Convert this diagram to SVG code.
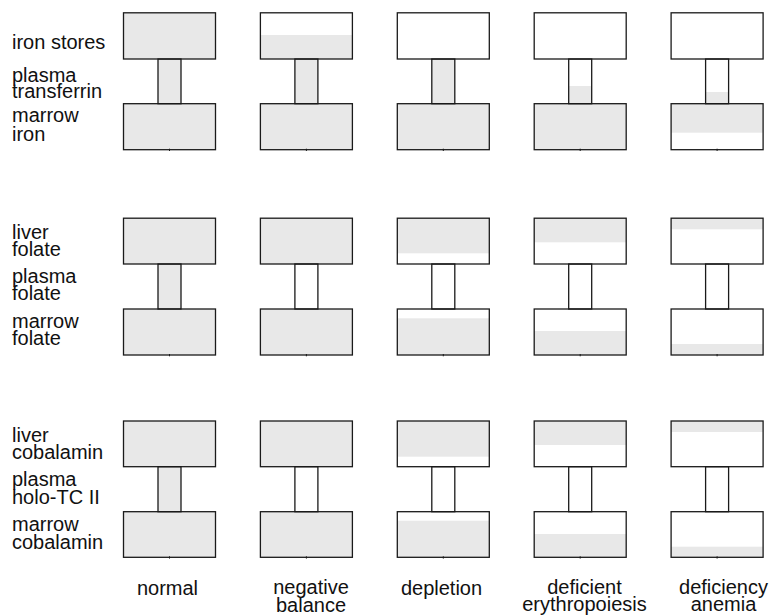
<svg xmlns="http://www.w3.org/2000/svg" width="769" height="615" viewBox="0 0 769 615">
<style>
.box{fill:none;stroke:#1a1a1a;stroke-width:1.3}
.lvl{fill:#e8e8e8}
.tick{stroke:#1a1a1a;stroke-width:1}
.lbl{font-family:"Liberation Sans",Arial,sans-serif;font-size:20px;fill:#111}
.cap{font-family:"Liberation Sans",Arial,sans-serif;font-size:20px;fill:#111;text-anchor:middle}
</style>
<rect width="769" height="615" fill="#fff"/>

<g id="row-labels">
<text class="lbl" x="12" y="48.5">iron stores</text>
<text class="lbl" x="12" y="81.5">plasma<tspan x="12" dy="16">transferrin</tspan></text>
<text class="lbl" x="12" y="122">marrow<tspan x="12" dy="18.5">iron</tspan></text>

<text class="lbl" x="12" y="239">liver<tspan x="12" dy="17">folate</tspan></text>
<text class="lbl" x="12" y="283.3">plasma<tspan x="12" dy="16.7">folate</tspan></text>
<text class="lbl" x="12" y="327.7">marrow<tspan x="12" dy="17.3">folate</tspan></text>

<text class="lbl" x="12" y="441.7">liver<tspan x="12" dy="17.6">cobalamin</tspan></text>
<text class="lbl" x="12" y="486">plasma<tspan x="12" dy="18">holo-TC II</tspan></text>
<text class="lbl" x="12" y="530.7">marrow<tspan x="12" dy="18.3">cobalamin</tspan></text>
</g>

<g id="column-labels">
<text class="cap" x="167.5" y="595">normal</text>
<text class="cap" x="311" y="593.5">negative<tspan x="311" dy="18">balance</tspan></text>
<text class="cap" x="441.5" y="595">depletion</text>
<text class="cap" x="584.5" y="593.5">deficient<tspan x="584.5" dy="17.5">erythropoiesis</tspan></text>
<text class="cap" x="723.5" y="593.5">deficiency<tspan x="723.5" dy="17.5">anemia</tspan></text>
</g>

<!-- Row 1: iron -->
<g id="iron-normal">
<rect class="lvl" x="123.5" y="12.8" width="92" height="46.2"/>
<rect class="lvl" x="158" y="59" width="23" height="44.7"/>
<rect class="lvl" x="123.5" y="103.7" width="92" height="46"/>
<rect class="box" x="123.5" y="12.8" width="92" height="46.2"/>
<rect class="box" x="158" y="59" width="23" height="44.7"/>
<rect class="box" x="123.5" y="103.7" width="92" height="46"/>
<line class="tick" x1="169.5" y1="148.7" x2="169.5" y2="151"/>
</g>
<g id="iron-negative-balance">
<rect class="lvl" x="260.4" y="35" width="92" height="24"/>
<rect class="lvl" x="294.9" y="59" width="23" height="44.7"/>
<rect class="lvl" x="260.4" y="103.7" width="92" height="46"/>
<rect class="box" x="260.4" y="12.8" width="92" height="46.2"/>
<rect class="box" x="294.9" y="59" width="23" height="44.7"/>
<rect class="box" x="260.4" y="103.7" width="92" height="46"/>
<line class="tick" x1="306.4" y1="148.7" x2="306.4" y2="151"/>
</g>
<g id="iron-depletion">
<rect class="lvl" x="431.8" y="59" width="23" height="44.7"/>
<rect class="lvl" x="397.3" y="103.7" width="92" height="46"/>
<rect class="box" x="397.3" y="12.8" width="92" height="46.2"/>
<rect class="box" x="431.8" y="59" width="23" height="44.7"/>
<rect class="box" x="397.3" y="103.7" width="92" height="46"/>
<line class="tick" x1="443.3" y1="148.7" x2="443.3" y2="151"/>
</g>
<g id="iron-deficient-erythropoiesis">
<rect class="lvl" x="568.7" y="86" width="23" height="17.7"/>
<rect class="lvl" x="534.2" y="103.7" width="92" height="46"/>
<rect class="box" x="534.2" y="12.8" width="92" height="46.2"/>
<rect class="box" x="568.7" y="59" width="23" height="44.7"/>
<rect class="box" x="534.2" y="103.7" width="92" height="46"/>
<line class="tick" x1="580.2" y1="148.7" x2="580.2" y2="151"/>
</g>
<g id="iron-deficiency-anemia">
<rect class="lvl" x="705.6" y="92" width="23" height="11.7"/>
<rect class="lvl" x="671.1" y="103.7" width="92" height="29"/>
<rect class="box" x="671.1" y="12.8" width="92" height="46.2"/>
<rect class="box" x="705.6" y="59" width="23" height="44.7"/>
<rect class="box" x="671.1" y="103.7" width="92" height="46"/>
<line class="tick" x1="717.1" y1="148.7" x2="717.1" y2="151"/>
</g>

<!-- Row 2: folate -->
<g id="folate-normal">
<rect class="lvl" x="123.5" y="218.2" width="92" height="45.8"/>
<rect class="lvl" x="158" y="264" width="23" height="45"/>
<rect class="lvl" x="123.5" y="309" width="92" height="46"/>
<rect class="box" x="123.5" y="218.2" width="92" height="45.8"/>
<rect class="box" x="158" y="264" width="23" height="45"/>
<rect class="box" x="123.5" y="309" width="92" height="46"/>
<line class="tick" x1="169.5" y1="354" x2="169.5" y2="356.3"/>
</g>
<g id="folate-negative-balance">
<rect class="lvl" x="260.4" y="218.2" width="92" height="45.8"/>
<rect class="lvl" x="260.4" y="309" width="92" height="46"/>
<rect class="box" x="260.4" y="218.2" width="92" height="45.8"/>
<rect class="box" x="294.9" y="264" width="23" height="45"/>
<rect class="box" x="260.4" y="309" width="92" height="46"/>
<line class="tick" x1="306.4" y1="354" x2="306.4" y2="356.3"/>
</g>
<g id="folate-depletion">
<rect class="lvl" x="397.3" y="218.2" width="92" height="35.1"/>
<rect class="lvl" x="397.3" y="318.3" width="92" height="36.7"/>
<rect class="box" x="397.3" y="218.2" width="92" height="45.8"/>
<rect class="box" x="431.8" y="264" width="23" height="45"/>
<rect class="box" x="397.3" y="309" width="92" height="46"/>
<line class="tick" x1="443.3" y1="354" x2="443.3" y2="356.3"/>
</g>
<g id="folate-deficient-erythropoiesis">
<rect class="lvl" x="534.2" y="218.2" width="92" height="24.1"/>
<rect class="lvl" x="534.2" y="331" width="92" height="24"/>
<rect class="box" x="534.2" y="218.2" width="92" height="45.8"/>
<rect class="box" x="568.7" y="264" width="23" height="45"/>
<rect class="box" x="534.2" y="309" width="92" height="46"/>
<line class="tick" x1="580.2" y1="354" x2="580.2" y2="356.3"/>
</g>
<g id="folate-deficiency-anemia">
<rect class="lvl" x="671.1" y="218.2" width="92" height="11.1"/>
<rect class="lvl" x="671.1" y="344" width="92" height="11"/>
<rect class="box" x="671.1" y="218.2" width="92" height="45.8"/>
<rect class="box" x="705.6" y="264" width="23" height="45"/>
<rect class="box" x="671.1" y="309" width="92" height="46"/>
<line class="tick" x1="717.1" y1="354" x2="717.1" y2="356.3"/>
</g>

<!-- Row 3: cobalamin -->
<g id="cobalamin-normal">
<rect class="lvl" x="123.5" y="421" width="92" height="45.7"/>
<rect class="lvl" x="158" y="466.7" width="23" height="45"/>
<rect class="lvl" x="123.5" y="511.7" width="92" height="45.6"/>
<rect class="box" x="123.5" y="421" width="92" height="45.7"/>
<rect class="box" x="158" y="466.7" width="23" height="45"/>
<rect class="box" x="123.5" y="511.7" width="92" height="45.6"/>
<line class="tick" x1="169.5" y1="556.3" x2="169.5" y2="558.6"/>
</g>
<g id="cobalamin-negative-balance">
<rect class="lvl" x="260.4" y="421" width="92" height="45.7"/>
<rect class="lvl" x="260.4" y="511.7" width="92" height="45.6"/>
<rect class="box" x="260.4" y="421" width="92" height="45.7"/>
<rect class="box" x="294.9" y="466.7" width="23" height="45"/>
<rect class="box" x="260.4" y="511.7" width="92" height="45.6"/>
<line class="tick" x1="306.4" y1="556.3" x2="306.4" y2="558.6"/>
</g>
<g id="cobalamin-depletion">
<rect class="lvl" x="397.3" y="421" width="92" height="35.7"/>
<rect class="lvl" x="397.3" y="520.7" width="92" height="36.6"/>
<rect class="box" x="397.3" y="421" width="92" height="45.7"/>
<rect class="box" x="431.8" y="466.7" width="23" height="45"/>
<rect class="box" x="397.3" y="511.7" width="92" height="45.6"/>
<line class="tick" x1="443.3" y1="556.3" x2="443.3" y2="558.6"/>
</g>
<g id="cobalamin-deficient-erythropoiesis">
<rect class="lvl" x="534.2" y="421" width="92" height="24"/>
<rect class="lvl" x="534.2" y="534" width="92" height="23.3"/>
<rect class="box" x="534.2" y="421" width="92" height="45.7"/>
<rect class="box" x="568.7" y="466.7" width="23" height="45"/>
<rect class="box" x="534.2" y="511.7" width="92" height="45.6"/>
<line class="tick" x1="580.2" y1="556.3" x2="580.2" y2="558.6"/>
</g>
<g id="cobalamin-deficiency-anemia">
<rect class="lvl" x="671.1" y="421" width="92" height="11"/>
<rect class="lvl" x="671.1" y="546.7" width="92" height="10.6"/>
<rect class="box" x="671.1" y="421" width="92" height="45.7"/>
<rect class="box" x="705.6" y="466.7" width="23" height="45"/>
<rect class="box" x="671.1" y="511.7" width="92" height="45.6"/>
<line class="tick" x1="717.1" y1="556.3" x2="717.1" y2="558.6"/>
</g>
</svg>
